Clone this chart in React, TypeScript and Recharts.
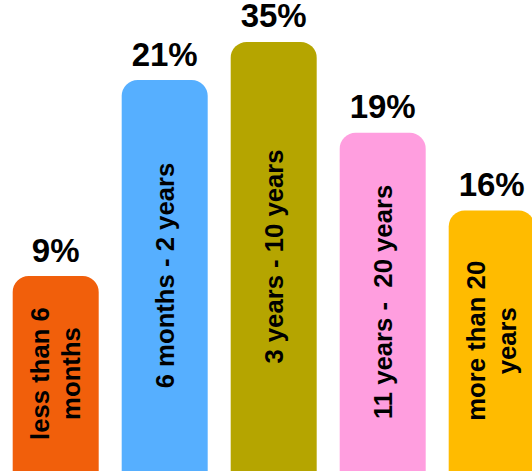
import React from "react";
import { BarChart, Bar, XAxis, YAxis, LabelList, Cell } from "recharts";

const categories = [
  "less than 6\nmonths",
  "6 months - 2 years",
  "3 years - 10 years",
  "11 years -  20 years",
  "more than 20\nyears",
];
const percentLabels = ["9%", "21%", "35%", "19%", "16%"];
const barHeights = [41.4, 83.0, 91.1, 71.8, 55.3];
const colors = ["#F15F0B", "#56AFFF", "#B5A500", "#FF9EDF", "#FFBB00"];

const data = categories.map((c, i) => ({
  category: c,
  pct: percentLabels[i],
  height: barHeights[i],
}));

const FONT = "'Liberation Sans', Arial, sans-serif";

const PctLabel = (props: any) => {
  const { x, y, width, value } = props;
  return (
    <text
      x={x + width / 2}
      y={y - 14.5}
      textAnchor="middle"
      fontFamily={FONT}
      fontWeight="bold"
      fontSize={33}
      fill="#000"
    >
      {value}
    </text>
  );
};

const CatLabel = (props: any) => {
  const { x, y, width, height, value } = props;
  const cx = x + width / 2;
  const cy = y + height / 2;
  const f = 25.7;
  const L = 31;
  const lines = String(value).split("\n");
  const n = lines.length;
  const firstY = cy - ((n - 1) * L) / 2 + 0.35 * f;
  return (
    <text
      transform={`rotate(-90, ${cx}, ${cy})`}
      textAnchor="middle"
      fontFamily={FONT}
      fontWeight="bold"
      fontSize={f}
      fill="#000"
      style={{ whiteSpace: "pre" }}
    >
      {lines.map((ln, i) => (
        <tspan key={i} x={cx} y={firstY + i * L}>
          {ln}
        </tspan>
      ))}
    </text>
  );
};

export default function App() {
  return (
    <div
      style={{
        position: "fixed",
        left: 0,
        top: 0,
        width: 532,
        height: 471,
        overflow: "hidden",
        background: "#fff",
      }}
    >
      <BarChart
        width={546}
        height={471}
        data={data}
        margin={{ top: 0, right: 0, left: 1, bottom: 0 }}
        barCategoryGap={11.7}
      >
        <XAxis dataKey="category" hide />
        <YAxis hide domain={[0, 100]} />
        <Bar dataKey="height" radius={[16, 16, 0, 0]} isAnimationActive={false}>
          {data.map((d, i) => (
            <Cell key={i} fill={colors[i]} />
          ))}
          <LabelList dataKey="pct" content={PctLabel} />
          <LabelList dataKey="category" content={CatLabel} />
        </Bar>
      </BarChart>
    </div>
  );
}
